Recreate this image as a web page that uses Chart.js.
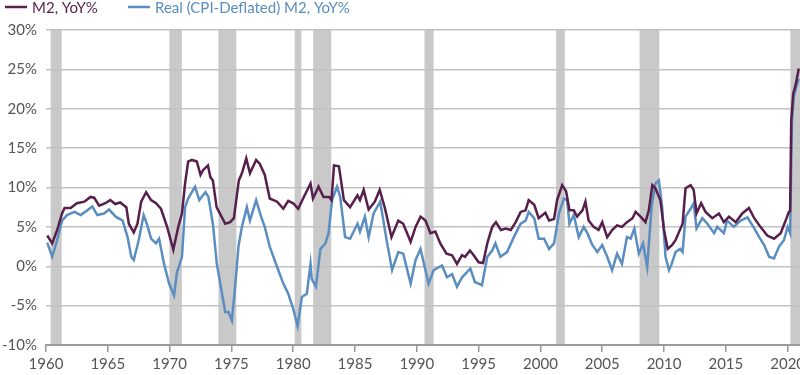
<!DOCTYPE html>
<html>
<head>
<meta charset="utf-8">
<script src="https://cdn.jsdelivr.net/npm/chart.js@4"></script>
<style>
  body { margin: 0; background: #fff; }
  #wrap { width: 800px; height: 375px; position: relative; }
</style>
</head>
<body>
<div id="wrap"><canvas id="m2Chart"></canvas></div>
<script>
// M2, YoY%
const m2Years = [1960.1, 1960.5, 1960.9, 1961.3, 1961.5, 1962.0, 1962.5, 1963.1, 1963.6, 1963.9, 1964.3, 1964.8, 1965.2, 1965.6, 1966.0, 1966.5, 1966.7, 1967.1, 1967.4, 1967.7, 1968.1, 1968.5, 1968.9, 1969.3, 1969.8, 1970.3, 1970.7, 1971.0, 1971.25, 1971.5, 1971.8, 1972.2, 1972.5, 1972.7, 1973.1, 1973.3, 1973.5, 1973.8, 1974.2, 1974.5, 1974.9, 1975.2, 1975.6, 1975.85, 1976.2, 1976.5, 1977.0, 1977.3, 1977.7, 1978.1, 1978.7, 1979.2, 1979.6, 1980.0, 1980.4, 1980.8, 1981.4, 1981.6, 1982.05, 1982.45, 1982.9, 1983.1, 1983.3, 1983.7, 1984.1, 1984.6, 1985.2, 1985.4, 1985.7, 1986.1, 1986.6, 1987.0, 1987.4, 1987.95, 1988.5, 1988.9, 1989.5, 1989.9, 1990.3, 1990.7, 1991.1, 1991.5, 1991.9, 1992.4, 1992.85, 1993.25, 1993.66, 1993.9, 1994.3, 1994.6, 1995.0, 1995.36, 1995.7, 1996.1, 1996.4, 1996.8, 1997.2, 1997.6, 1998.0, 1998.4, 1998.8, 1999.05, 1999.5, 1999.86, 2000.4, 2000.7, 2001.1, 2001.35, 2001.76, 2002.08, 2002.35, 2002.7, 2002.97, 2003.4, 2003.64, 2003.9, 2004.3, 2004.7, 2005.0, 2005.4, 2005.8, 2006.2, 2006.6, 2007.0, 2007.45, 2007.7, 2008.1, 2008.5, 2008.77, 2009.05, 2009.3, 2009.7, 2010.0, 2010.3, 2010.66, 2010.93, 2011.5, 2011.74, 2012.15, 2012.4, 2012.63, 2013.0, 2013.36, 2013.9, 2014.44, 2014.84, 2015.25, 2015.8, 2016.33, 2016.87, 2017.3, 2017.8, 2018.35, 2018.9, 2019.43, 2019.84, 2020.1, 2020.2, 2020.29, 2020.45, 2020.64, 2020.78, 2020.9];
const m2Values = [3.9, 2.9, 4.6, 6.7, 7.4, 7.4, 8.0, 8.2, 8.8, 8.7, 7.7, 8.0, 8.4, 7.9, 8.1, 7.5, 5.4, 4.3, 5.4, 8.2, 9.4, 8.4, 8.0, 7.3, 5.0, 2.1, 5.0, 6.7, 10.5, 13.3, 13.5, 13.3, 11.6, 12.2, 12.8, 11.3, 10.9, 7.5, 6.3, 5.4, 5.6, 6.1, 10.9, 11.8, 13.7, 11.8, 13.5, 13.0, 11.6, 8.6, 8.2, 7.3, 8.3, 8.0, 7.3, 8.6, 10.5, 8.6, 10.1, 8.8, 8.8, 8.4, 12.8, 12.7, 8.4, 7.5, 9.0, 8.4, 9.7, 7.2, 8.2, 9.7, 7.5, 3.7, 5.8, 5.4, 3.1, 5.0, 6.3, 5.8, 4.2, 4.4, 2.9, 1.6, 1.4, 0.3, 1.4, 1.2, 2.0, 1.4, 0.5, 0.4, 2.9, 5.0, 5.6, 4.6, 4.8, 4.6, 5.6, 6.9, 7.1, 8.4, 7.8, 6.1, 6.8, 5.8, 6.0, 8.4, 10.3, 9.5, 7.1, 7.1, 6.3, 7.1, 8.2, 5.8, 5.0, 4.6, 5.6, 3.7, 4.6, 5.2, 5.0, 5.6, 6.1, 6.9, 6.3, 5.6, 7.1, 10.3, 9.9, 8.4, 4.6, 2.2, 2.7, 3.3, 5.4, 9.9, 10.3, 9.7, 6.7, 8.0, 6.9, 6.1, 6.7, 5.6, 6.3, 5.6, 6.7, 7.4, 6.1, 5.0, 3.9, 3.5, 4.2, 5.8, 6.9, 7.0, 18.5, 21.9, 23.0, 24.1, 25.1];

// Real (CPI-Deflated) M2, YoY%
const realYears = [1960.1, 1960.5, 1960.9, 1961.3, 1961.7, 1962.3, 1962.8, 1963.35, 1963.75, 1964.15, 1964.7, 1965.1, 1965.64, 1966.2, 1966.6, 1966.9, 1967.1, 1967.5, 1967.9, 1968.2, 1968.5, 1968.9, 1969.15, 1969.55, 1969.96, 1970.36, 1970.58, 1971.0, 1971.25, 1971.5, 1971.8, 1972.06, 1972.4, 1972.9, 1973.14, 1973.5, 1973.82, 1974.1, 1974.5, 1974.76, 1975.04, 1975.3, 1975.57, 1975.85, 1976.25, 1976.5, 1977.0, 1977.4, 1977.7, 1978.1, 1978.7, 1979.2, 1979.6, 1980.0, 1980.35, 1980.7, 1981.1, 1981.4, 1981.5, 1981.84, 1982.2, 1982.6, 1982.86, 1983.14, 1983.55, 1983.8, 1984.2, 1984.6, 1985.2, 1985.4, 1985.8, 1986.1, 1986.5, 1987.04, 1987.6, 1988.0, 1988.5, 1988.9, 1989.5, 1989.9, 1990.3, 1990.7, 1990.95, 1991.36, 1992.04, 1992.44, 1992.85, 1993.25, 1993.66, 1994.33, 1994.7, 1995.27, 1995.7, 1996.1, 1996.36, 1996.76, 1997.3, 1997.85, 1998.4, 1998.8, 1999.05, 1999.5, 1999.86, 2000.3, 2000.7, 2001.1, 2001.5, 2001.9, 2002.16, 2002.35, 2002.7, 2003.1, 2003.5, 2003.8, 2004.2, 2004.6, 2005.0, 2005.4, 2005.8, 2006.2, 2006.6, 2007.0, 2007.3, 2007.6, 2007.96, 2008.3, 2008.64, 2008.99, 2009.3, 2009.58, 2009.85, 2010.12, 2010.4, 2010.6, 2010.93, 2011.3, 2011.5, 2011.74, 2012.15, 2012.4, 2012.63, 2013.1, 2013.5, 2014.05, 2014.3, 2014.84, 2015.1, 2015.65, 2016.2, 2016.75, 2017.3, 2017.7, 2018.1, 2018.5, 2018.9, 2019.3, 2019.7, 2020.0, 2020.2, 2020.35, 2020.5, 2020.7, 2020.9];
const realValues = [3.0, 1.2, 3.3, 5.8, 6.5, 6.9, 6.5, 7.1, 7.6, 6.5, 6.7, 7.2, 6.3, 5.8, 3.7, 1.2, 0.8, 3.3, 6.5, 5.2, 3.5, 2.9, 3.5, 0.3, -2.2, -3.7, -0.9, 1.2, 7.5, 8.6, 9.4, 10.1, 8.4, 9.4, 8.8, 5.4, 0.3, -2.2, -5.8, -5.8, -6.9, -2.6, 2.5, 5.0, 7.5, 5.8, 8.4, 6.3, 5.0, 2.5, -0.1, -2.2, -3.5, -5.4, -7.6, -3.9, -3.5, 0.3, -1.6, -2.6, 2.2, 2.9, 4.2, 8.4, 10.1, 8.8, 3.7, 3.5, 5.4, 4.4, 6.3, 3.7, 6.7, 8.2, 2.9, -0.5, 1.8, 1.6, -2.2, 0.8, 2.2, -0.5, -2.2, -0.5, 0.1, -1.4, -1.0, -2.6, -1.4, -0.3, -2.0, -2.4, 1.2, 2.0, 2.9, 1.2, 1.8, 3.7, 5.4, 5.8, 6.9, 6.1, 3.5, 3.5, 2.2, 2.9, 6.7, 8.6, 8.4, 5.4, 6.5, 3.7, 5.0, 4.2, 2.7, 1.8, 2.7, 1.2, -0.5, 1.6, 0.3, 3.7, 3.5, 4.8, 1.6, 2.9, -0.1, 7.5, 10.5, 10.9, 7.5, 1.2, -0.5, 0.2, 1.8, 2.2, 1.8, 6.3, 7.3, 8.0, 4.8, 6.1, 5.4, 4.2, 5.0, 4.2, 5.8, 5.0, 5.8, 6.2, 4.8, 3.7, 2.7, 1.2, 1.0, 2.5, 3.3, 5.0, 4.2, 18.5, 21.5, 22.8, 23.8];

// recession periods (start, end) in decimal years
const recessionStarts = [1960.38, 1969.98, 1973.95, 1980.12, 1981.62, 1990.62, 2001.27, 2008.02, 2020.22];
const recessionEnds   = [1961.27, 1970.99, 1975.4, 1980.66, 1983.08, 1991.36, 2001.97, 2009.62, 2021];

const xTicks = [1960, 1965, 1970, 1975, 1980, 1985, 1990, 1995, 2000, 2005, 2010, 2015, 2020];
const yTicks = [-10, -5, 0, 5, 10, 15, 20, 25, 30];

const purple = "#561f4c";
const blue = "#5b8ec0";
const fontFamily = "Lato, 'Open Sans', sans-serif";

// shaded recession bars behind grid and lines
const recessionBars = {
    id: "recessionBars",
    beforeDraw(chart) {
        const { ctx, chartArea, scales: { x } } = chart;
        ctx.save();
        ctx.fillStyle = "#c9c9c9";
        recessionStarts.forEach((s, i) => {
            const x0 = x.getPixelForValue(s);
            const x1 = Math.min(x.getPixelForValue(recessionEnds[i]), chartArea.right);
            ctx.fillRect(x0, chartArea.top, x1 - x0, chartArea.bottom - chartArea.top);
        });
        ctx.restore();
    }
};

// simple line legend at top left
const lineLegend = {
    id: "lineLegend",
    afterDraw(chart) {
        const { ctx } = chart;
        const spots = [5, 128];
        ctx.save();
        ctx.font = "15px " + fontFamily;
        ctx.textBaseline = "middle";
        chart.data.datasets.forEach((ds, i) => {
            const x = spots[i];
            ctx.strokeStyle = ds.borderColor;
            ctx.lineWidth = 2.5;
            ctx.beginPath();
            ctx.moveTo(x, 7);
            ctx.lineTo(x + 22, 7);
            ctx.stroke();
            ctx.fillStyle = ds.borderColor;
            ctx.fillText(ds.label, x + 27, 8);
        });
        ctx.restore();
    }
};

new Chart(document.getElementById("m2Chart"), {
    type: "line",
    data: {
        datasets: [
            {
                label: "M2, YoY%",
                data: m2Years.map((yr, i) => ({ x: yr, y: m2Values[i] })),
                borderColor: purple,
                borderWidth: 2.5,
                pointRadius: 0,
                tension: 0
            },
            {
                label: "Real (CPI-Deflated) M2, YoY%",
                data: realYears.map((yr, i) => ({ x: yr, y: realValues[i] })),
                borderColor: blue,
                borderWidth: 2.5,
                pointRadius: 0,
                tension: 0
            }
        ]
    },
    options: {
        responsive: true,
        maintainAspectRatio: false,
        animation: false,
        layout: { padding: { top: 30, right: 0, left: 0, bottom: 0 } },
        plugins: {
            legend: { display: false },
            tooltip: { enabled: false }
        },
        scales: {
            x: {
                type: "linear",
                min: 1960,
                max: 2021,
                afterBuildTicks: scale => {
                    scale.ticks = xTicks.map(v => ({ value: v }));
                },
                afterFit: scale => {
                    scale.height = 30;
                    scale.paddingLeft = 0;
                    scale.paddingRight = 0;
                },
                ticks: {
                    maxRotation: 0,
                    autoSkip: false,
                    padding: 3,
                    color: "#555",
                    font: { family: fontFamily, size: 15 },
                    callback: v => String(v)
                },
                grid: { drawOnChartArea: false, drawTicks: true, tickLength: 7, color: "#9a9a9a", lineWidth: 1.5 },
                border: { display: true, color: "#9a9a9a", width: 2 }
            },
            y: {
                min: -10,
                max: 30,
                afterBuildTicks: scale => {
                    scale.ticks = yTicks.map(v => ({ value: v }));
                },
                afterFit: scale => { scale.width = 46; },
                ticks: {
                    padding: 9,
                    color: "#555",
                    font: { family: fontFamily, size: 15 },
                    callback: v => v + "%"
                },
                grid: { color: "#c2c2c2", lineWidth: 1.5, drawTicks: false },
                border: { display: false }
            }
        }
    },
    plugins: [recessionBars, lineLegend]
});
</script>
</body>
</html>
